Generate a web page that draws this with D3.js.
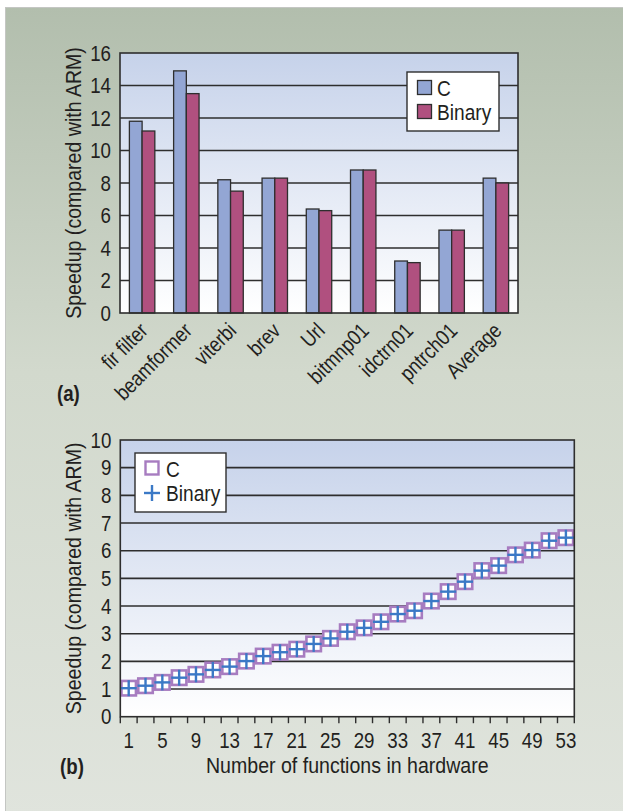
<!DOCTYPE html>
<html>
<head>
<meta charset="utf-8">
<script src="https://cdn.jsdelivr.net/npm/d3@7"></script>
<style>
  html, body { margin: 0; padding: 0; background: #ffffff; }
  svg { display: block; }
  text { font-family: "Liberation Sans", Arial, sans-serif; fill: #231f20; }
</style>
</head>
<body>
<svg id="fig" width="623" height="811"></svg>
<script>
// (a) speedup per benchmark
const benchmarks = ["fir filter", "beamformer", "viterbi", "brev", "Url", "bitmnp01", "idctrn01", "pntrch01", "Average"];
const speedupC      = [11.8, 14.9, 8.2, 8.3, 6.4, 8.8, 3.2, 5.1, 8.3];
const speedupBinary = [11.2, 13.5, 7.5, 8.3, 6.3, 8.8, 3.1, 5.1, 8.0];
const seriesNames   = ["C", "Binary"];
const yTicksA       = [0, 2, 4, 6, 8, 10, 12, 14, 16];

// (b) speedup versus number of functions moved to hardware
const functionCounts = [1, 3, 5, 7, 9, 11, 13, 15, 17, 19, 21, 23, 25, 27, 29, 31, 33, 35, 37, 39, 41, 43, 45, 47, 49, 51, 53];
const xLabelsB       = [1, 5, 9, 13, 17, 21, 25, 29, 33, 37, 41, 45, 49, 53];
const speedupCB      = [1.03, 1.12, 1.24, 1.41, 1.53, 1.69, 1.81, 2.01, 2.19, 2.33, 2.44, 2.63, 2.83, 3.07, 3.21, 3.43, 3.71, 3.83, 4.18, 4.52, 4.88, 5.28, 5.46, 5.85, 6.02, 6.36, 6.47];
const speedupBinaryB = [1.03, 1.12, 1.24, 1.41, 1.53, 1.69, 1.81, 2.01, 2.19, 2.33, 2.44, 2.63, 2.83, 3.07, 3.21, 3.43, 3.71, 3.83, 4.18, 4.52, 4.88, 5.28, 5.46, 5.85, 6.02, 6.36, 6.47];
const yTicksB        = [0, 1, 2, 3, 4, 5, 6, 7, 8, 9, 10];

const W = 623, H = 811;
const FS = 21.5;          // body text size
const K_NUM = 0.85;       // horizontal squeeze for numbers, legends, categories
const K_TITLE = 0.91;     // horizontal squeeze for axis titles
const inkDark = "#2e2e2e";

// Squeeze text horizontally around its own anchor point (condensed look).
function condense(sel, k) {
  sel.each(function () {
    const t = d3.select(this);
    const x = +t.attr("x") || 0, y = +t.attr("y") || 0;
    const tr = t.attr("transform") || "";
    t.attr("transform", `${tr} translate(${x},${y}) scale(${k},1)`).attr("x", 0).attr("y", 0);
  });
  return sel;
}

const svg = d3.select("#fig");
const defs = svg.append("defs");

// panel background
const bgGrad = defs.append("linearGradient").attr("id", "panelBg")
  .attr("x1", 0).attr("y1", 0).attr("x2", 0).attr("y2", 1);
bgGrad.append("stop").attr("offset", 0).attr("stop-color", "#b2bead");
bgGrad.append("stop").attr("offset", 0.45).attr("stop-color", "#d2d9cd");
bgGrad.append("stop").attr("offset", 1).attr("stop-color", "#e0e4dd");

const plotGrad = defs.append("linearGradient").attr("id", "plotBg")
  .attr("x1", 0).attr("y1", 0).attr("x2", 0).attr("y2", 1);
plotGrad.append("stop").attr("offset", 0).attr("stop-color", "#c6d2ea");
plotGrad.append("stop").attr("offset", 1).attr("stop-color", "#ffffff");

svg.append("rect").attr("x", 5.5).attr("y", 7.5).attr("width", W).attr("height", H)
  .attr("fill", "url(#panelBg)").attr("stroke", "#c4c6c3").attr("stroke-width", 1);

// ---------- (a) grouped bars ----------
const A = { left: 120, right: 518, top: 53, bottom: 313 };
const xA = d3.scaleBand().domain(benchmarks).range([A.left, A.right])
  .paddingInner(0.425).paddingOuter(0.2125);
const xSeries = d3.scaleBand().domain(seriesNames).range([0, xA.bandwidth()]);
const yA = d3.scaleLinear().domain([0, 16]).range([A.bottom, A.top]);

const gA = svg.append("g");
gA.append("rect").attr("x", A.left).attr("y", A.top)
  .attr("width", A.right - A.left).attr("height", A.bottom - A.top)
  .attr("fill", "url(#plotBg)");

gA.append("g").selectAll("line").data(yTicksA.slice(1, -1)).join("line")
  .attr("x1", A.left).attr("x2", A.right)
  .attr("y1", d => yA(d)).attr("y2", d => yA(d))
  .attr("stroke", inkDark).attr("stroke-width", 1.6);

const barColors = { C: "#93a6d4", Binary: "#b0507f" };
const rows = benchmarks.map((b, i) => ({ name: b, C: speedupC[i], Binary: speedupBinary[i] }));
const groups = gA.append("g").selectAll("g").data(rows).join("g")
  .attr("transform", d => `translate(${xA(d.name)},0)`);
groups.selectAll("rect").data(d => seriesNames.map(s => ({ s, v: d[s] }))).join("rect")
  .attr("x", d => xSeries(d.s)).attr("width", xSeries.bandwidth())
  .attr("y", d => yA(d.v)).attr("height", d => yA(0) - yA(d.v))
  .attr("fill", d => barColors[d.s]).attr("stroke", inkDark).attr("stroke-width", 1.3);

gA.append("rect").attr("x", A.left).attr("y", A.top)
  .attr("width", A.right - A.left).attr("height", A.bottom - A.top)
  .attr("fill", "none").attr("stroke", inkDark).attr("stroke-width", 1.6);

// y axis labels
const axisA = d3.axisLeft(yA).tickValues(yTicksA).tickSize(0).tickPadding(9);
const yAxA = gA.append("g").attr("transform", `translate(${A.left},0)`).call(axisA);
yAxA.select(".domain").remove();
yAxA.attr("font-family", null).attr("font-size", null);
condense(yAxA.selectAll("text").attr("font-size", FS + 0.5).attr("fill", "#231f20"), K_NUM);

// rotated category labels
condense(gA.append("g").selectAll("text").data(benchmarks).join("text")
  .attr("transform", d => `translate(${xA(d) + xA.bandwidth() / 2 + 7},${A.bottom + 19}) rotate(-45)`)
  .attr("text-anchor", "end").attr("font-size", FS).text(d => d), K_NUM);

condense(gA.append("text")
  .attr("transform", `translate(73,${(A.top + A.bottom) / 2}) rotate(-90)`)
  .attr("text-anchor", "middle").attr("dominant-baseline", "central")
  .attr("font-size", FS).text("Speedup (compared with ARM)"), K_TITLE);

// legend (a)
const legA = gA.append("g").attr("transform", "translate(407,72)");
legA.append("rect").attr("width", 92).attr("height", 59)
  .attr("fill", "#ffffff").attr("stroke", inkDark).attr("stroke-width", 1.4);
seriesNames.forEach((s, i) => {
  legA.append("rect").attr("x", 10.5).attr("y", 8.5 + i * 24).attr("width", 14).attr("height", 14)
    .attr("fill", barColors[s]).attr("stroke", inkDark).attr("stroke-width", 1.3);
  condense(legA.append("text").attr("x", 30).attr("y", 15.5 + i * 24).attr("dominant-baseline", "central")
    .attr("font-size", FS + 1).text(s), K_NUM);
});

condense(svg.append("text").attr("x", 57).attr("y", 401).attr("font-size", 22)
  .attr("font-weight", "bold").text("(a)"), K_NUM);

// ---------- (b) markers ----------
const B = { left: 120.3, right: 574.3, top: 440, bottom: 716.7 };
const xB = d3.scaleBand().domain(functionCounts).range([B.left, B.right]);
const yB = d3.scaleLinear().domain([0, 10]).range([B.bottom, B.top]);

const gB = svg.append("g");
gB.append("rect").attr("x", B.left).attr("y", B.top)
  .attr("width", B.right - B.left).attr("height", B.bottom - B.top)
  .attr("fill", "url(#plotBg)");
gB.append("g").selectAll("line").data(yTicksB.slice(1, -1)).join("line")
  .attr("x1", B.left).attr("x2", B.right)
  .attr("y1", d => yB(d)).attr("y2", d => yB(d))
  .attr("stroke", inkDark).attr("stroke-width", 1.6);

// category boundary ticks below the axis
const boundaries = functionCounts.map(c => xB(c)).concat([B.right]);
gB.append("g").selectAll("line").data(boundaries).join("line")
  .attr("x1", d => d).attr("x2", d => d)
  .attr("y1", B.bottom).attr("y2", B.bottom + 6.5)
  .attr("stroke", inkDark).attr("stroke-width", 1.4);

const sq = 14.5;
const plus = 16;
const cMarkColor = "#a77cc0";
const bMarkColor = "#3b79c6";
gB.append("g").selectAll("rect").data(functionCounts).join("rect")
  .attr("x", (d) => xB(d) + xB.bandwidth() / 2 - sq / 2)
  .attr("y", (d, i) => yB(speedupCB[i]) - sq / 2)
  .attr("width", sq).attr("height", sq)
  .attr("fill", "#ffffff").attr("stroke", cMarkColor).attr("stroke-width", 2.6);
const plusG = gB.append("g").selectAll("g").data(functionCounts).join("g")
  .attr("transform", (d, i) => `translate(${xB(d) + xB.bandwidth() / 2},${yB(speedupBinaryB[i])})`);
plusG.append("line").attr("x1", -plus / 2).attr("x2", plus / 2)
  .attr("stroke", bMarkColor).attr("stroke-width", 2.4);
plusG.append("line").attr("y1", -plus / 2).attr("y2", plus / 2)
  .attr("stroke", bMarkColor).attr("stroke-width", 2.4);

gB.append("rect").attr("x", B.left).attr("y", B.top)
  .attr("width", B.right - B.left).attr("height", B.bottom - B.top)
  .attr("fill", "none").attr("stroke", inkDark).attr("stroke-width", 1.6);

const axisB = d3.axisLeft(yB).tickValues(yTicksB).tickSize(0).tickPadding(9);
const yAxB = gB.append("g").attr("transform", `translate(${B.left},0)`).call(axisB);
yAxB.select(".domain").remove();
yAxB.attr("font-family", null).attr("font-size", null);
condense(yAxB.selectAll("text").attr("font-size", FS + 0.5).attr("fill", "#231f20"), K_NUM);

condense(gB.append("g").selectAll("text").data(xLabelsB).join("text")
  .attr("x", d => xB(d) + xB.bandwidth() / 2).attr("y", 748)
  .attr("text-anchor", "middle").attr("font-size", FS + 0.5).text(d => d), K_NUM);

condense(gB.append("text").attr("x", (B.left + B.right) / 2).attr("y", 773)
  .attr("text-anchor", "middle").attr("font-size", FS).text("Number of functions in hardware"), K_TITLE);

condense(gB.append("text")
  .attr("transform", `translate(73,${(B.top + B.bottom) / 2}) rotate(-90)`)
  .attr("text-anchor", "middle").attr("dominant-baseline", "central")
  .attr("font-size", FS).text("Speedup (compared with ARM)"), K_TITLE);

// legend (b)
const legB = gB.append("g").attr("transform", "translate(135,453)");
legB.append("rect").attr("width", 91).attr("height", 59)
  .attr("fill", "#ffffff").attr("stroke", inkDark).attr("stroke-width", 1.4);
legB.append("rect").attr("x", 10.5).attr("y", 8.5).attr("width", 13).attr("height", 13)
  .attr("fill", "#ffffff").attr("stroke", cMarkColor).attr("stroke-width", 2.4);
legB.append("line").attr("x1", 9).attr("x2", 25).attr("y1", 40).attr("y2", 40)
  .attr("stroke", bMarkColor).attr("stroke-width", 2.4);
legB.append("line").attr("x1", 17).attr("x2", 17).attr("y1", 32).attr("y2", 48)
  .attr("stroke", bMarkColor).attr("stroke-width", 2.4);
condense(legB.append("text").attr("x", 31).attr("y", 15.5).attr("dominant-baseline", "central")
  .attr("font-size", FS + 1).text(seriesNames[0]), K_NUM);
condense(legB.append("text").attr("x", 31).attr("y", 40).attr("dominant-baseline", "central")
  .attr("font-size", FS + 1).text(seriesNames[1]), K_NUM);

condense(svg.append("text").attr("x", 60).attr("y", 774).attr("font-size", 22)
  .attr("font-weight", "bold").text("(b)"), K_NUM);
</script>
</body>
</html>
